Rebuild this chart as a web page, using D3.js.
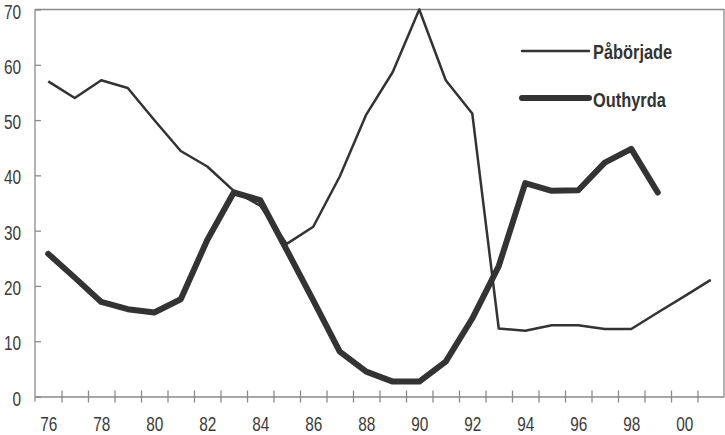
<!DOCTYPE html>
<html>
<head>
<meta charset="utf-8">
<script src="https://cdn.jsdelivr.net/npm/d3@7"></script>
<style>
  body { margin: 0; background: #fff; }
  .axis text { font-family: "Liberation Sans", Arial, sans-serif; font-size: 20px; fill: #3c3c3c; }
  .axis path, .axis line { stroke: #8a8a8a; stroke-width: 1.3; }
  .legend text { font-family: "Liberation Sans", Arial, sans-serif; font-size: 20px; font-weight: bold; fill: #333; }
</style>
</head>
<body>
<script>
// years on the x axis
const years = d3.range(1976, 2002);
// Påbörjade, 1976-2001
const paborjade = [57, 54, 57.2, 55.8, 50, 44.4, 41.6, 37.2, 34.5, 27.6,
                   30.7, 39.8, 51, 58.7, 70, 57.2, 51.2, 12.3, 11.9, 12.9,
                   12.9, 12.2, 12.2, 15.2, 18.1, 21.1];
// Outhyrda, 1976-1999
const outhyrda = [25.8, 21.5, 17.1, 15.8, 15.2, 17.6, 28.3, 36.9, 35.5, 26.5,
                  17.4, 8.1, 4.5, 2.7, 2.7, 6.3, 14.1, 23.6, 38.6, 37.2,
                  37.3, 42.3, 44.8, 36.9];
const yTicks = [0, 10, 20, 30, 40, 50, 60, 70];
const xLabelYears = d3.range(1976, 2001, 2);
const seriesNames = ["Påbörjade", "Outhyrda"];

const width = 725, height = 435;
const margin = {top: 9.5, right: 1, bottom: 38.5, left: 35};
const innerW = width - margin.left - margin.right;
const innerH = height - margin.top - margin.bottom;

// squeeze text horizontally to get the condensed look
function condense(sel, k) {
  sel.each(function() {
    const t = d3.select(this);
    const tx = +t.attr("x") || 0;
    const ty = +t.attr("y") || 0;
    t.attr("x", 0).attr("y", 0)
      .attr("transform", "translate(" + tx + "," + ty + ") scale(" + k + ",1)");
  });
}

const svg = d3.select("body").append("svg")
  .attr("width", width)
  .attr("height", height);

const x = d3.scaleLinear()
  .domain([1975.5, 2001.5])
  .range([margin.left, margin.left + innerW]);
const y = d3.scaleLinear()
  .domain([0, 70])
  .range([margin.top + innerH, margin.top]);

// frame top and right
svg.append("path")
  .attr("d", "M" + x(1975.5) + "," + y(70) + "H" + x(2001.5) + "V" + y(0))
  .attr("fill", "none")
  .attr("stroke", "#8a8a8a")
  .attr("stroke-width", 1.3);

// x axis: tick marks at year edges, crossing the axis line
const xTickAxis = svg.append("g")
  .attr("class", "axis")
  .attr("transform", "translate(0," + y(0) + ")")
  .call(d3.axisBottom(x)
    .tickValues(d3.range(1976.5, 2001, 1))
    .tickSize(6)
    .tickSizeOuter(0)
    .tickFormat(""));
xTickAxis.selectAll(".tick line").attr("y1", -6);

// x labels at even years
const xLabelAxis = svg.append("g")
  .attr("class", "axis")
  .attr("transform", "translate(0," + y(0) + ")")
  .call(d3.axisBottom(x)
    .tickValues(xLabelYears)
    .tickSize(0)
    .tickPadding(20)
    .tickFormat(d => String(d % 100).padStart(2, "0")));
xLabelAxis.select(".domain").remove();
xLabelAxis.selectAll(".tick text").attr("dy", null).attr("y", 34.5);
condense(xLabelAxis.selectAll(".tick text"), 0.77);

// y axis with inward ticks
const yAxis = svg.append("g")
  .attr("class", "axis")
  .attr("transform", "translate(" + margin.left + ",0)")
  .call(d3.axisLeft(y)
    .tickValues(yTicks)
    .tickSize(-6)
    .tickSizeOuter(0)
    .tickPadding(14));
yAxis.select(".domain").attr("d", "M0," + y(70) + "V" + (y(0) + 5));
yAxis.selectAll(".tick text").attr("dy", null).attr("y", 8.5);
condense(yAxis.selectAll(".tick text"), 0.77);

const line = d3.line()
  .x((d, i) => x(years[i]))
  .y(d => y(d));

svg.append("path")
  .datum(paborjade)
  .attr("d", line)
  .attr("fill", "none")
  .attr("stroke", "#333")
  .attr("stroke-width", 2.5)
  .attr("stroke-linejoin", "round");

svg.append("path")
  .datum(outhyrda)
  .attr("d", line)
  .attr("fill", "none")
  .attr("stroke", "#333")
  .attr("stroke-width", 6)
  .attr("stroke-linejoin", "round")
  .attr("stroke-linecap", "round");

// legend
const legend = svg.append("g").attr("class", "legend");
const legendRows = [{name: seriesNames[0], w: 2.5, ly: 51, ty: 59},
                    {name: seriesNames[1], w: 6, ly: 98, ty: 107}];
legendRows.forEach(r => {
  legend.append("line")
    .attr("x1", 522).attr("x2", 589)
    .attr("y1", r.ly).attr("y2", r.ly)
    .attr("stroke", "#333")
    .attr("stroke-width", r.w)
    .attr("stroke-linecap", "round");
  legend.append("text")
    .attr("x", 593)
    .attr("y", r.ty)
    .text(r.name);
});
condense(legend.selectAll("text"), 0.82);
</script>
</body>
</html>
